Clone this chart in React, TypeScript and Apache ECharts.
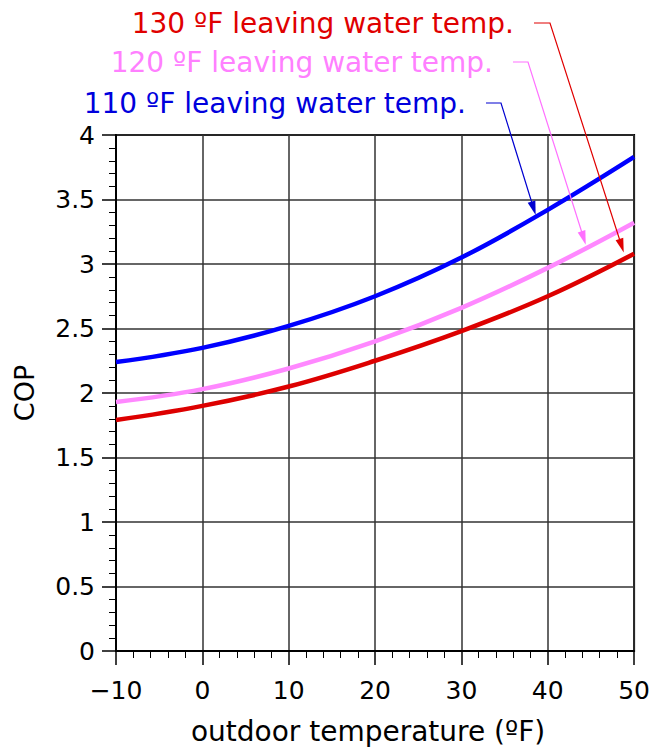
import React, { useEffect, useRef } from "react";
import * as echarts from "echarts";

const outdoorTemps = [-10, 0, 10, 20, 30, 40, 50];
const cop110 = [2.24, 2.35, 2.52, 2.75, 3.05, 3.42, 3.83];
const cop120 = [1.93, 2.03, 2.19, 2.4, 2.66, 2.97, 3.32];
const cop130 = [1.79, 1.9, 2.05, 2.25, 2.48, 2.75, 3.08];

const seriesNames = [
  "110 ºF leaving water temp.",
  "120 ºF leaving water temp.",
  "130 ºF leaving water temp.",
];
// where each label's arrow points, in data coordinates
const arrowTips: number[][] = [
  [38.6, 3.38],
  [44.4, 3.15],
  [48.8, 3.09],
];

const FONT = "DejaVu Sans";
const lineColors = ["#0000ff", "#ff88ff", "#dd0000"];
const textColors = ["#0000dd", "#ff80ff", "#e00000"];
const leaderColors = ["#0000d0", "#ff70ff", "#e00000"];
// label layout (pixels): right edge of text, text middle y, leader start x, bend x
const labelLayout = [
  { right: 466, y: 103, lx0: 486, lx1: 501 },
  { right: 493, y: 62, lx0: 513, lx1: 528 },
  { right: 514, y: 23, lx0: 534, lx1: 550 },
];

export default function App() {
  const ref = useRef<HTMLDivElement>(null);
  useEffect(() => {
    document.body.style.margin = "0";
    const chart = echarts.init(ref.current!, null, { renderer: "svg" });
    const mk = (d: number[]) => outdoorTemps.map((x, i) => [x, d[i]]);
    const datas = [cop110, cop120, cop130];
    chart.setOption({
      animation: false,
      grid: {
        left: 116,
        top: 135,
        width: 520,
        height: 520,
        show: true,
        borderColor: "#000",
        borderWidth: 2,
        backgroundColor: "transparent",
      },
      xAxis: {
        type: "value",
        min: -10,
        max: 50,
        interval: 10,
        name: "outdoor temperature (ºF)",
        nameLocation: "middle",
        nameGap: 66,
        nameTextStyle: { fontFamily: FONT, fontSize: 28, color: "#000", padding: [0, 14, 0, 0] },
        axisLine: { show: true, onZero: false, lineStyle: { color: "#000", width: 2 } },
        axisTick: { show: true, inside: false, length: 14, lineStyle: { color: "#000", width: 1.5 } },
        minorTick: { show: true, splitNumber: 5, length: 7, lineStyle: { color: "#000", width: 1 } },
        axisLabel: {
          fontFamily: FONT,
          fontSize: 25,
          color: "#000",
          margin: 27,
          formatter: (v: number) => (v < 0 ? "\u2212" + Math.abs(v) : String(v)),
        },
        splitLine: { show: true, lineStyle: { color: "#333", width: 1.5 } },
      },
      yAxis: {
        type: "value",
        min: 0,
        max: 4,
        interval: 0.5,
        name: "COP",
        nameLocation: "middle",
        nameGap: 78,
        nameRotate: 90,
        nameTextStyle: { fontFamily: FONT, fontSize: 27, color: "#000" },
        axisLine: { show: true, onZero: false, lineStyle: { color: "#000", width: 2 } },
        axisTick: { show: true, inside: false, length: 14, lineStyle: { color: "#000", width: 1.5 } },
        minorTick: { show: true, splitNumber: 5, length: 7, lineStyle: { color: "#000", width: 1 } },
        axisLabel: { fontFamily: FONT, fontSize: 25, color: "#000", margin: 21 },
        splitLine: { show: true, lineStyle: { color: "#333", width: 1.5 } },
      },
      series: datas.map((d, i) => ({
        type: "line",
        name: seriesNames[i],
        data: mk(d),
        smooth: 0.4,
        showSymbol: false,
        symbol: "none",
        lineStyle: { color: lineColors[i], width: 4.5 },
        z: 3,
      })),
    });

    const graphics: any[] = [];
    arrowTips.forEach((tip, i) => {
      const L = labelLayout[i];
      const p = chart.convertToPixel({ gridIndex: 0 }, tip) as number[];
      const bx = L.lx1, by = L.y;
      const dx = p[0] - bx, dy = p[1] - by;
      const len = Math.sqrt(dx * dx + dy * dy);
      const ux = dx / len, uy = dy / len;
      const nx = -uy, ny = ux;
      const hl = 14, hw = 4;
      const base = [p[0] - ux * hl, p[1] - uy * hl];
      graphics.push({
        type: "text",
        style: {
          text: seriesNames[i],
          x: L.right,
          y: L.y,
          align: "right",
          verticalAlign: "middle",
          fontFamily: FONT,
          fontSize: 28,
          fill: textColors[i],
        },
        z: 10,
      });
      graphics.push({
        type: "polyline",
        shape: { points: [[L.lx0, L.y], [bx, by], [base[0] + ux * 2, base[1] + uy * 2]] },
        style: { stroke: leaderColors[i], lineWidth: 1.2, fill: null },
        z: 10,
      });
      graphics.push({
        type: "polygon",
        shape: {
          points: [
            [p[0], p[1]],
            [base[0] + nx * hw, base[1] + ny * hw],
            [base[0] - nx * hw, base[1] - ny * hw],
          ],
        },
        style: { fill: leaderColors[i], stroke: null },
        z: 10,
      });
    });
    chart.setOption({ graphic: graphics });

    return () => chart.dispose();
  }, []);
  return <div ref={ref} style={{ width: 653, height: 750 }} />;
}
